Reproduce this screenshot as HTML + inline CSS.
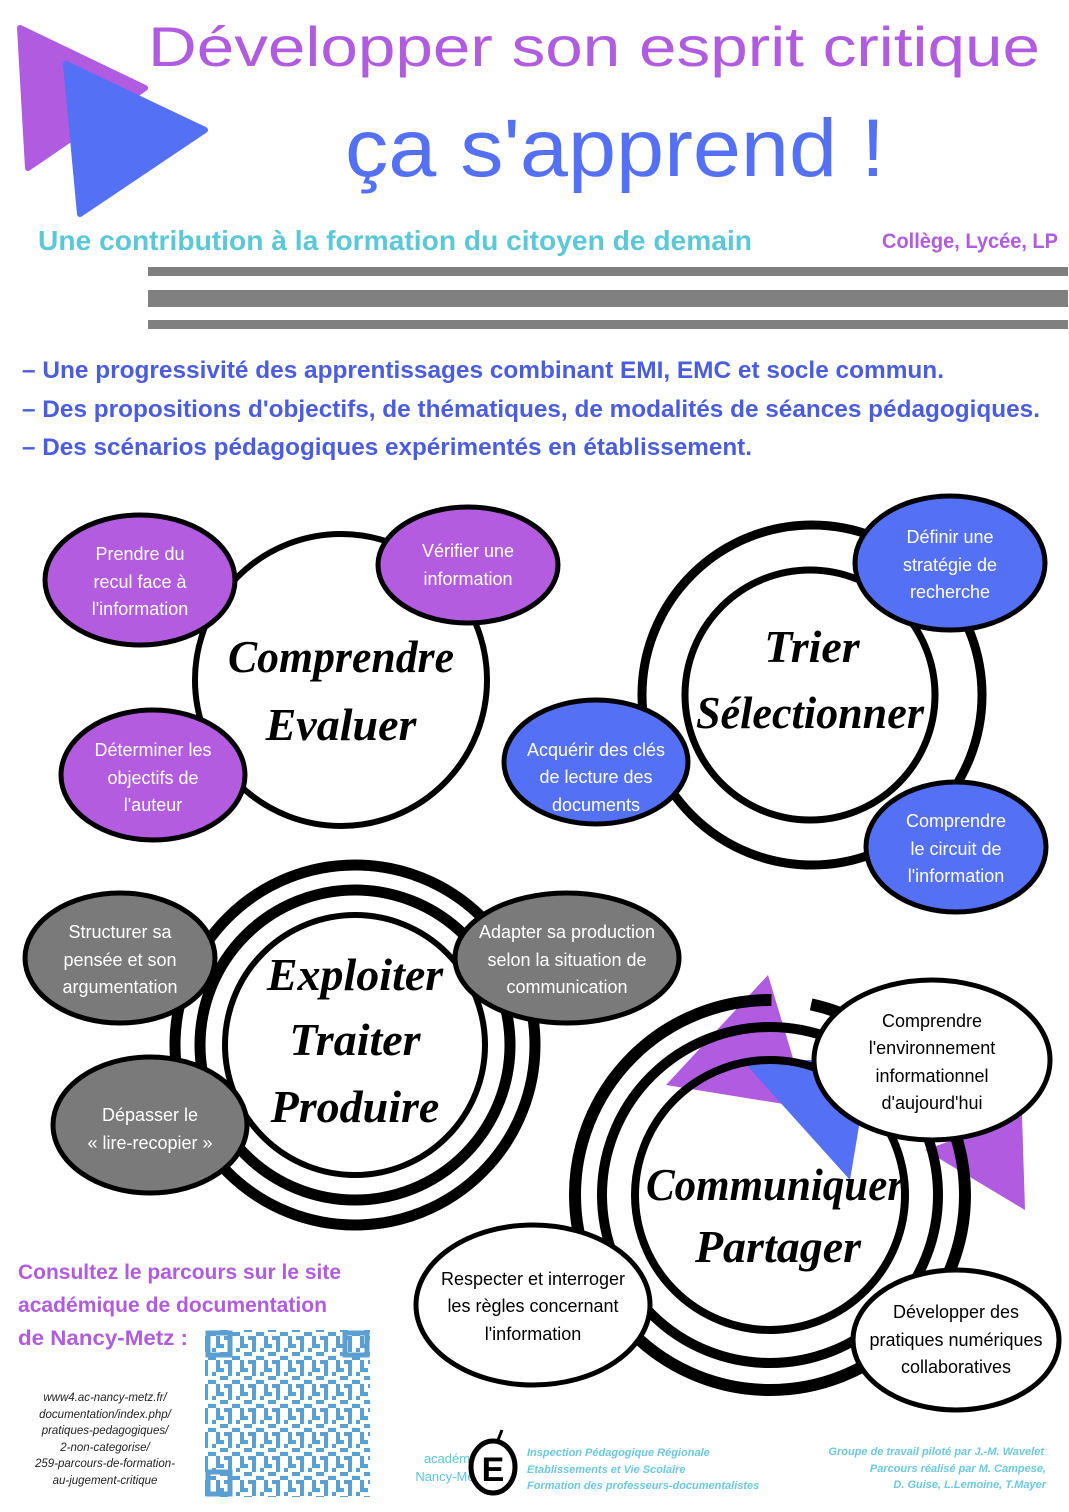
<!DOCTYPE html>
<html><head><meta charset="utf-8"><style>
html,body{margin:0;padding:0;background:#fff}
svg{display:block}
</style></head><body>
<svg width="1069" height="1512" viewBox="0 0 1069 1512" xmlns="http://www.w3.org/2000/svg" font-family="Liberation Sans, sans-serif">
<defs>
<pattern id="qr" x="0" y="0" width="24" height="24" patternUnits="userSpaceOnUse">
<rect width="24" height="24" fill="#fff"/>
<rect x="0" y="0" width="8" height="4" fill="#5b9fd0"/><rect x="12" y="0" width="4" height="8" fill="#5b9fd0"/>
<rect x="4" y="8" width="8" height="4" fill="#5b9fd0"/><rect x="16" y="12" width="8" height="4" fill="#5b9fd0"/>
<rect x="0" y="16" width="4" height="8" fill="#5b9fd0"/><rect x="8" y="16" width="8" height="4" fill="#5b9fd0"/>
<rect x="20" y="4" width="4" height="4" fill="#5b9fd0"/><rect x="12" y="20" width="4" height="4" fill="#5b9fd0"/>
</pattern>
</defs>
<polygon points="20,28 145,88 28,168" fill="#b05be0" stroke="#b05be0" stroke-width="6" stroke-linejoin="round"/>
<polygon points="66,64 205,130 80,214" fill="#5470f5" stroke="#5470f5" stroke-width="6" stroke-linejoin="round"/>
<text x="148" y="66" font-size="56" fill="#b05be0" textLength="892" lengthAdjust="spacingAndGlyphs">Développer son esprit critique</text>
<text x="345" y="176" font-size="82" fill="#5470f5" textLength="540" lengthAdjust="spacingAndGlyphs">ça s'apprend !</text>
<text x="38" y="250" font-size="28" font-weight="bold" fill="#5bc8d8" textLength="714" lengthAdjust="spacingAndGlyphs">Une contribution à la formation du citoyen de demain</text>
<text x="882" y="248" font-size="21" font-weight="bold" fill="#b05be0" textLength="176" lengthAdjust="spacingAndGlyphs">Collège, Lycée, LP</text>
<rect x="148" y="267" width="920" height="9" fill="#808080"/>
<rect x="148" y="290" width="920" height="17" fill="#808080"/>
<rect x="148" y="320" width="920" height="9" fill="#808080"/>
<g font-size="24" font-weight="bold" fill="#4a5de0">
<text x="22" y="378" textLength="922" lengthAdjust="spacingAndGlyphs">– Une progressivité des apprentissages combinant EMI, EMC et socle commun.</text>
<text x="22" y="417" textLength="1018" lengthAdjust="spacingAndGlyphs">– Des propositions d'objectifs, de thématiques, de modalités de séances pédagogiques.</text>
<text x="22" y="455" textLength="730" lengthAdjust="spacingAndGlyphs">– Des scénarios pédagogiques expérimentés en établissement.</text>
</g>

<circle cx="341" cy="680" r="146" fill="#fff" stroke="#000" stroke-width="6"/>
<g font-family="Liberation Serif, serif" font-style="italic" font-weight="bold" fill="#000" text-anchor="middle">
<text x="341" y="672" font-size="46" textLength="226" lengthAdjust="spacingAndGlyphs">Comprendre</text>
<text x="341" y="740" font-size="46">Evaluer</text>
</g>
<g stroke="#000" stroke-width="5" fill="#b45ce0">
<ellipse cx="140" cy="580" rx="95" ry="65"/>
<ellipse cx="468" cy="565" rx="90" ry="58"/>
<ellipse cx="153" cy="775" rx="92" ry="65"/>
</g>
<g font-size="18" fill="#fff" text-anchor="middle">
<text x="140" y="560">Prendre du</text><text x="140" y="588">recul face à</text><text x="140" y="615">l'information</text>
<text x="468" y="557">Vérifier une</text><text x="468" y="585">information</text>
<text x="153" y="756">Déterminer les</text><text x="153" y="784">objectifs de</text><text x="153" y="811">l'auteur</text>
</g>

<circle cx="812" cy="695" r="170" fill="none" stroke="#000" stroke-width="9"/>
<circle cx="810" cy="695" r="125" fill="#fff" stroke="#000" stroke-width="7"/>
<g font-family="Liberation Serif, serif" font-style="italic" font-weight="bold" fill="#000" text-anchor="middle">
<text x="812" y="662" font-size="46">Trier</text>
<text x="810" y="728" font-size="46" textLength="228" lengthAdjust="spacingAndGlyphs">Sélectionner</text>
</g>
<g stroke="#000" stroke-width="5" fill="#5470f5">
<ellipse cx="950" cy="563" rx="95" ry="67"/>
<ellipse cx="596" cy="762" rx="92" ry="62"/>
<ellipse cx="956" cy="847" rx="90" ry="65"/>
</g>
<g font-size="18" fill="#fff" text-anchor="middle">
<text x="950" y="543">Définir une</text><text x="950" y="571">stratégie de</text><text x="950" y="598">recherche</text>
<text x="596" y="756">Acquérir des clés</text><text x="596" y="783">de lecture des</text><text x="596" y="811">documents</text>
<text x="956" y="827">Comprendre</text><text x="956" y="855">le circuit de</text><text x="956" y="882">l'information</text>
</g>

<circle cx="355" cy="1045" r="180" fill="none" stroke="#000" stroke-width="11"/>
<circle cx="355" cy="1045" r="155" fill="none" stroke="#000" stroke-width="11"/>
<circle cx="355" cy="1045" r="130" fill="#fff" stroke="#000" stroke-width="6"/>
<g font-family="Liberation Serif, serif" font-style="italic" font-weight="bold" fill="#000" text-anchor="middle">
<text x="355" y="990" font-size="46">Exploiter</text>
<text x="355" y="1055" font-size="46">Traiter</text>
<text x="355" y="1122" font-size="46">Produire</text>
</g>
<g stroke="#000" stroke-width="5" fill="#7a7a7a">
<ellipse cx="120" cy="958" rx="95" ry="65"/>
<ellipse cx="567" cy="958" rx="112" ry="65"/>
<ellipse cx="150" cy="1125" rx="97" ry="68"/>
</g>
<g font-size="18" fill="#fff" text-anchor="middle">
<text x="120" y="938">Structurer sa</text><text x="120" y="966">pensée et son</text><text x="120" y="993">argumentation</text>
<text x="567" y="938">Adapter sa production</text><text x="567" y="966">selon la situation de</text><text x="567" y="993">communication</text>
<text x="150" y="1121">Dépasser le</text><text x="150" y="1149">« lire-recopier »</text>
</g>

<polygon points="768,975 808,1108 666,1085" fill="#b05be0"/>
<polygon points="742,1060 870,1060 850,1180" fill="#5470f5"/>
<polygon points="925,1150 1022,1115 1025,1210" fill="#b05be0"/>
<circle cx="770" cy="1195" r="195" fill="none" stroke="#000" stroke-width="12" stroke-dasharray="920 40 300 40"/>
<circle cx="770" cy="1195" r="168" fill="none" stroke="#000" stroke-width="10"/>
<circle cx="770" cy="1195" r="135" fill="none" stroke="#000" stroke-width="8"/>
<g font-family="Liberation Serif, serif" font-style="italic" font-weight="bold" fill="#000" text-anchor="middle">
<text x="775" y="1200" font-size="46" textLength="258" lengthAdjust="spacingAndGlyphs">Communiquer</text>
<text x="778" y="1262" font-size="46">Partager</text>
</g>
<g stroke="#000" stroke-width="5" fill="#fff">
<ellipse cx="932" cy="1060" rx="118" ry="80"/>
<ellipse cx="533" cy="1305" rx="117" ry="80"/>
<ellipse cx="956" cy="1340" rx="103" ry="70"/>
</g>
<g font-size="18" fill="#000" text-anchor="middle">
<text x="932" y="1027">Comprendre</text><text x="932" y="1054">l'environnement</text><text x="932" y="1082">informationnel</text><text x="932" y="1109">d'aujourd'hui</text>
<text x="533" y="1285">Respecter et interroger</text><text x="533" y="1312">les règles concernant</text><text x="533" y="1340">l'information</text>
<text x="956" y="1318">Développer des</text><text x="956" y="1346">pratiques numériques</text><text x="956" y="1373">collaboratives</text>
</g>

<g font-size="21" font-weight="bold" fill="#b05be0">
<text x="18" y="1279" textLength="323" lengthAdjust="spacingAndGlyphs">Consultez le parcours sur  le site</text>
<text x="18" y="1312" textLength="309" lengthAdjust="spacingAndGlyphs">académique de documentation</text>
<text x="18" y="1345" textLength="170" lengthAdjust="spacingAndGlyphs">de Nancy-Metz :</text>
</g>
<rect x="205" y="1330" width="165" height="167" fill="url(#qr)"/>
<g fill="none" stroke="#5b9fd0" stroke-width="5">
<rect x="208" y="1333" width="22" height="22"/><rect x="345" y="1333" width="22" height="22"/><rect x="208" y="1472" width="22" height="22"/>
</g>
<g font-size="11.5" font-style="italic" fill="#222" text-anchor="middle">
<text x="105" y="1401">www4.ac-nancy-metz.fr/</text>
<text x="105" y="1418">documentation/index.php/</text>
<text x="105" y="1434">pratiques-pedagogiques/</text>
<text x="105" y="1451">2-non-categorise/</text>
<text x="105" y="1467">259-parcours-de-formation-</text>
<text x="105" y="1484">au-jugement-critique</text>
</g>
<g font-size="13" fill="#5bc8d8" text-anchor="middle"><text x="452" y="1463">académie</text><text x="450" y="1481">Nancy-Metz</text></g>
<ellipse cx="493" cy="1467" rx="22" ry="26" fill="#fff" stroke="#000" stroke-width="5"/>
<text x="493" y="1481" font-size="34" font-weight="bold" text-anchor="middle" fill="#000">E</text>
<line x1="498" y1="1440" x2="502" y2="1430" stroke="#000" stroke-width="3"/>
<g font-size="11" font-style="italic" font-weight="bold" fill="#6cc8e0">
<text x="527" y="1456">Inspection Pédagogique Régionale</text>
<text x="527" y="1473">Etablissements et Vie Scolaire</text>
<text x="527" y="1489">Formation des professeurs-documentalistes</text>
</g>
<g font-size="11" font-style="italic" font-weight="bold" fill="#6cc8e0" text-anchor="end">
<text x="1044" y="1455">Groupe de travail piloté par J.-M. Wavelet</text>
<text x="1046" y="1472">Parcours réalisé par M. Campese,</text>
<text x="1046" y="1488">D. Guise, L.Lemoine, T.Mayer</text>
</g>
</svg>
</body></html>
